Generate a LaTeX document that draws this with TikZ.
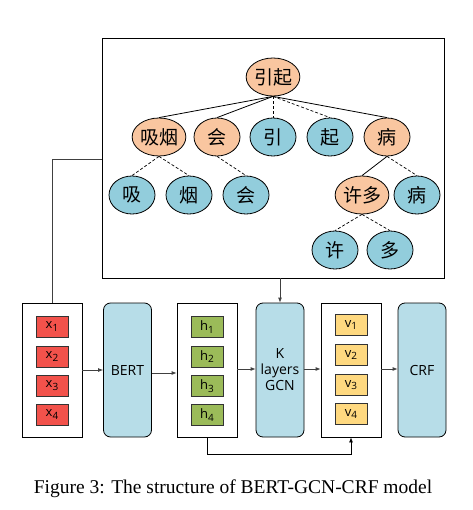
\documentclass[tikz,border=0pt]{standalone}
\usepackage{fontspec}
\setmainfont{Liberation Serif}
\newfontfamily\cjk{Noto Sans CJK SC}
\newfontfamily\osans{Open Sans}
\usetikzlibrary{shapes.geometric,arrows.meta}
\definecolor{orangeN}{HTML}{F9C6A0}
\definecolor{blueN}{HTML}{92CDDC}
\definecolor{boxblue}{HTML}{B7DDE8}
\definecolor{redc}{HTML}{F2524B}
\definecolor{greenc}{HTML}{9BBB59}
\definecolor{yellowc}{HTML}{FFD980}
\newcommand{\cellsub}[2]{#1\raisebox{-2.5pt}{\fontsize{10}{10}\selectfont #2}}
\begin{document}
\begin{tikzpicture}[x=1pt,y=-1pt,
  tnode/.style={ellipse,draw=black,line width=0.8pt,minimum width=46pt,minimum height=38pt,inner sep=0pt,font=\cjk\fontsize{19}{19}\selectfont},
  onode/.style={tnode,fill=orangeN},
  bnode/.style={tnode,fill=blueN},
  sedge/.style={line width=0.8pt},
  dedge/.style={line width=0.7pt,dash pattern=on 3pt off 2pt},
  outer/.style={draw=black,line width=0.8pt,fill=white,minimum width=60pt,minimum height=134pt,inner sep=0pt},
  proc/.style={draw=black,line width=0.8pt,fill=boxblue,rounded corners=7pt,minimum width=48pt,minimum height=134pt,inner sep=0pt,align=center,font=\osans\fontsize{14}{16}\selectfont},
  cell/.style={draw=black!80,line width=0.8pt,minimum width=32pt,minimum height=21pt,inner sep=0pt,font=\osans\fontsize{13}{13}\selectfont},
  arr/.style={line width=0.8pt,draw=black!75,-{Latex[length=5pt,width=4pt]}},
  conn/.style={line width=0.8pt,draw=black!75}
]
\useasboundingbox (0,0) rectangle (472,510);
% top tree box
\node[draw=black,line width=0.8pt,minimum width=342pt,minimum height=240pt,inner sep=0pt] (tree) at (273,158) {};
\node[onode] (root) at (273,77) {引起};
\node[onode] (xy) at (159,137) {吸烟};
\node[onode] (hui) at (217,137) {会};
\node[bnode] (yin) at (273,137) {引};
\node[bnode] (qi) at (330,137) {起};
\node[onode] (bing) at (387,137) {病};
\node[bnode] (xi) at (132,195) {吸};
\node[bnode] (yan) at (189,195) {烟};
\node[bnode] (hui2) at (246,195) {会};
\node[onode] (xd) at (362,195) {许多};
\node[bnode] (bing2) at (417,195) {病};
\node[bnode] (xu) at (335,250) {许};
\node[bnode] (duo) at (390,250) {多};
\draw[sedge] (root.south) -- (xy.north);
\draw[sedge] (root.south) -- (hui.north);
\draw[dedge] (root.south) -- (yin.north);
\draw[dedge] (root.south) -- (qi.north);
\draw[sedge] (root.south) -- (bing.north);
\draw[dedge] (xy.south) -- (xi.north);
\draw[dedge] (xy.south) -- (yan.north);
\draw[dedge] (hui.south) -- (hui2.north);
\draw[sedge] (bing.south) -- (xd.north);
\draw[dedge] (bing.south) -- (bing2.north);
\draw[dedge] (xd.south) -- (xu.north);
\draw[dedge] (xd.south) -- (duo.north);
% bottom pipeline
\node[outer] (xbox) at (52,370) {};
\node[cell,fill=redc] (x1) at (52,326.5) {\cellsub{x}{1}};
\node[cell,fill=redc] (x2) at (52,356.5) {\cellsub{x}{2}};
\node[cell,fill=redc] (x3) at (52,385.5) {\cellsub{x}{3}};
\node[cell,fill=redc] (x4) at (52,414.5) {\cellsub{x}{4}};
\node[proc] (bert) at (127.5,370) {BERT};
\node[outer] (hbox) at (207,370) {};
\node[cell,fill=greenc] (h1) at (207,327) {\cellsub{h}{1}};
\node[cell,fill=greenc] (h2) at (207,356.5) {\cellsub{h}{2}};
\node[cell,fill=greenc] (h3) at (207,386) {\cellsub{h}{3}};
\node[cell,fill=greenc] (h4) at (207,415) {\cellsub{h}{4}};
\node[proc] (gcn) at (280,370) {K\\layers\\GCN};
\node[outer] (vbox) at (351,370) {};
\node[cell,fill=yellowc] (v1) at (351,325) {\cellsub{v}{1}};
\node[cell,fill=yellowc] (v2) at (351,355) {\cellsub{v}{2}};
\node[cell,fill=yellowc] (v3) at (351,385) {\cellsub{v}{3}};
\node[cell,fill=yellowc] (v4) at (351,414) {\cellsub{v}{4}};
\node[proc] (crf) at (422,370) {CRF};
% connectors
\draw[conn] (xbox.north) -- (52,159) -- (tree.west |- 0,159);
\draw[arr] (xbox.east |- 0,370) -- (bert.west |- 0,370);
\draw[arr] (bert.east |- 0,373) -- (hbox.west |- 0,373);
\draw[arr] (hbox.east |- 0,369) -- (gcn.west |- 0,369);
\draw[arr] (tree.south -| gcn.north) -- (gcn.north);
\draw[arr] (gcn.east |- 0,369) -- (vbox.west |- 0,369);
\draw[arr] (vbox.east |- 0,369) -- (crf.west |- 0,369);
\draw[arr,draw=black] (hbox.south) -- (207,454) -- (351,454) -- (vbox.south);
% caption
\node[font=\fontsize{19.5}{20}\selectfont,anchor=center] (cap) at (233,489) {Figure 3: The structure of BERT-GCN-CRF model};
\end{tikzpicture}
\end{document}
